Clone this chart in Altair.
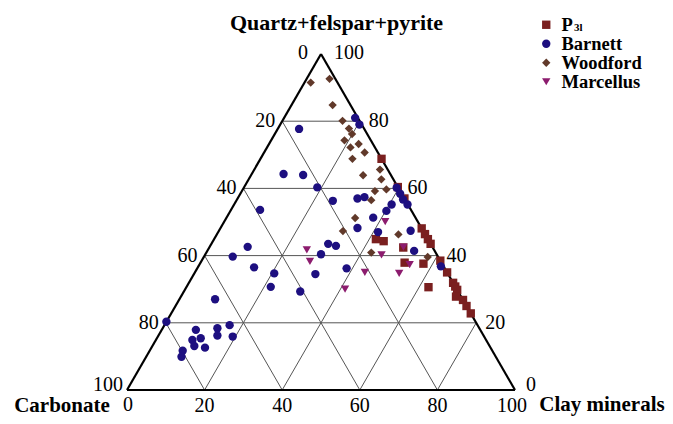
import altair as alt
import pandas as pd

# ---------------- data (percent) ----------------
# quartz = Quartz+felspar+pyrite, clay = Clay minerals, carbonate = 100 - quartz - clay
series_order = ["P3l", "Barnett", "Woodford", "Marcellus"]
series_colors = ["#7a1f1f", "#1d0f80", "#61392a", "#8c1c6e"]
series_shapes = ["square", "circle", "diamond", "triangle-down"]

p3l_quartz = [68.8, 60.4, 57.0, 48.1, 46.4, 44.9, 43.5, 44.9, 44.3, 42.4, 37.9,
              37.6, 38.5, 35.0, 31.9, 30.8, 29.8, 27.8, 26.8, 25.0, 22.8, 30.6]
p3l_clay = [31.2, 39.6, 43.0, 51.9, 53.6, 55.1, 56.5, 41.7, 44.0, 50.0, 52.6,
            57.6, 61.5, 65.0, 68.1, 69.2, 70.2, 70.9, 73.2, 75.0, 77.2, 62.4]

barnett_quartz = [81.0, 79.0, 77.7, 64.3, 64.0, 60.3, 56.3, 57.0, 57.4, 60.2, 58.4, 56.7,
                  55.2, 55.2, 53.3, 51.3, 48.2, 47.0, 47.4, 41.4, 36.8, 36.2, 53.6, 43.5,
                  42.9, 40.4, 42.6, 39.7, 36.5, 34.7, 30.7, 34.5, 29.3, 27.0, 20.3, 17.9,
                  18.4, 16.2, 19.3, 15.9, 14.9, 15.4, 13.1, 12.6, 11.7, 9.9]
barnett_clay = [18.3, 20.4, 5.5, 8.2, 13.4, 18.9, 24.9, 30.9, 32.5, 39.4, 41.2, 42.8,
                44.7, 40.6, 40.2, 37.8, 35.3, 41.2, 49.4, 53.3, 62.5, 38.5, 7.5, 30.1,
                32.4, 29.8, 9.8, 7.4, 14.5, 20.6, 21.7, 31.3, 30.0, 9.2, 0.0, 8.8,
                14.1, 15.2, 16.8, 19.3, 9.4, 11.3, 10.8, 13.8, 8.5, 9.1]

woodford_quartz = [91.5, 92.6, 84.8, 80.1, 77.8, 76.2, 74.3, 72.2, 73.2, 70.7, 68.8,
                   65.6, 63.9, 62.7, 59.2, 59.7, 56.5, 51.2, 47.3, 46.3, 40.9, 39.6]
woodford_clay = [1.6, 5.9, 10.6, 15.5, 18.3, 19.9, 18.9, 21.5, 23.1, 25.9, 23.7,
                 32.4, 28.9, 34.2, 34.3, 37.0, 34.7, 33.2, 32.0, 46.8, 42.5, 57.7]

marcellus_quartz = [50.1, 42.5, 37.3, 34.7, 40.2, 41.7, 38.3, 35.0, 30.0]
marcellus_clay = [41.5, 50.0, 54.2, 52.8, 45.5, 25.5, 28.0, 43.8, 41.2]

grid_values = [20, 40, 60, 80]
inner_ticks = [20, 40, 60, 80]

title_top = "Quartz+felspar+pyrite"
title_left = "Carbonate"
title_right = "Clay minerals"

# ---------------- helpers ----------------
def tx(q, c):
    """ternary -> cartesian x (0..100 along the base)"""
    return c + q / 2.0


def series_frame(name, quartz, clay):
    return pd.DataFrame({
        "series": name,
        "quartz": quartz,
        "clay": clay,
        "x": [tx(q, c) for q, c in zip(quartz, clay)],
        "y": quartz,
    })


points = pd.concat([
    series_frame("P3l", p3l_quartz, p3l_clay),
    series_frame("Barnett", barnett_quartz, barnett_clay),
    series_frame("Woodford", woodford_quartz, woodford_clay),
    series_frame("Marcellus", marcellus_quartz, marcellus_clay),
], ignore_index=True)
points["order"] = range(len(points))

grid_rows = []
for v in grid_values:
    grid_rows.append(dict(x=tx(v, 0), y=v, x2=tx(v, 100 - v), y2=v))            # quartz = v
    grid_rows.append(dict(x=tx(0, v), y=0, x2=tx(100 - v, v), y2=100 - v))      # clay = v
    grid_rows.append(dict(x=tx(0, 100 - v), y=0, x2=tx(100 - v, 0), y2=100 - v))  # carbonate = v
grid = pd.DataFrame(grid_rows)

frame = pd.DataFrame([
    dict(x=tx(0, 0), y=0, x2=tx(0, 100), y2=0),
    dict(x=tx(0, 0), y=0, x2=tx(100, 0), y2=100),
    dict(x=tx(0, 100), y=0, x2=tx(100, 0), y2=100),
])

bottom_ticks = pd.DataFrame({"label": [str(v) for v in inner_ticks],
                             "x": [tx(0, v) for v in inner_ticks],
                             "y": [0] * len(inner_ticks)})
left_ticks = pd.DataFrame({"label": [str(v) for v in inner_ticks],
                           "x": [tx(100 - v, 0) for v in inner_ticks],
                           "y": [100 - v for v in inner_ticks]})
right_ticks = pd.DataFrame({"label": [str(v) for v in inner_ticks],
                            "x": [tx(v, 100 - v) for v in inner_ticks],
                            "y": inner_ticks})

# ---------------- scales ----------------
W, H = 657, 408
PX_X, PX_Y = 3.88, 3.36
x0 = -(127 - 8) / PX_X
y1 = (390 - 8) / PX_Y
xscale = alt.Scale(domain=[x0, x0 + W / PX_X], nice=False, zero=False)
yscale = alt.Scale(domain=[y1 - H / PX_Y, y1], nice=False, zero=False)
X = lambda f: alt.X(f, scale=xscale, axis=None)
Y = lambda f: alt.Y(f, scale=yscale, axis=None)

SERIF = "Liberation Serif"

grid_layer = alt.Chart(grid).mark_rule(color="#555555", strokeWidth=1).encode(
    x=X("x:Q"), y=Y("y:Q"), x2="x2:Q", y2="y2:Q")

frame_layer = alt.Chart(frame).mark_rule(color="black", strokeWidth=2.2).encode(
    x=X("x:Q"), y=Y("y:Q"), x2="x2:Q", y2="y2:Q")

legend = alt.Legend(
    title=None, orient="none", legendX=529, legendY=7.5, padding=0,
    labelExpr="datum.label == 'P3l' ? 'P' : datum.label",
    labelFont=SERIF, labelFontSize=18.5, labelFontWeight="bold", labelColor="black",
    symbolSize=70, symbolStrokeWidth=0, rowPadding=0, labelOffset=6)

point_layer = alt.Chart(points).mark_point(filled=True, opacity=1, size=70).encode(
    x=X("x:Q"), y=Y("y:Q"),
    color=alt.Color("series:N", scale=alt.Scale(domain=series_order, range=series_colors), legend=legend),
    shape=alt.Shape("series:N", scale=alt.Scale(domain=series_order, range=series_shapes), legend=legend),
    order="order:Q",
)

tick_style = dict(font=SERIF, fontSize=20, color="black", baseline="middle")


def tick_layer(df, **kw):
    style = dict(tick_style)
    style.update(kw)
    return alt.Chart(df).mark_text(**style).encode(x=X("x:Q"), y=Y("y:Q"), text="label:N")


bottom_layer = tick_layer(bottom_ticks, align="center", dy=16)
left_layer = tick_layer(left_ticks, align="right", dx=-7)
right_layer = tick_layer(right_ticks, align="left", dx=9)

# corner labels (0 / 100 of each side)
top_left0 = tick_layer(pd.DataFrame({"label": ["0"], "x": [tx(100, 0)], "y": [100]}), align="right", dx=-13, dy=-1)
top_right100 = tick_layer(pd.DataFrame({"label": ["100"], "x": [tx(100, 0)], "y": [100]}), align="left", dx=13, dy=-1)
bl_left100 = tick_layer(pd.DataFrame({"label": ["100"], "x": [tx(0, 0)], "y": [0]}), align="right", dx=-4, dy=-5)
bl_bottom0 = tick_layer(pd.DataFrame({"label": ["0"], "x": [tx(0, 0)], "y": [0]}), align="center", dx=1, dy=15)
br_right0 = tick_layer(pd.DataFrame({"label": ["0"], "x": [tx(0, 100)], "y": [0]}), align="left", dx=11, dy=-5)
br_bottom100 = tick_layer(pd.DataFrame({"label": ["100"], "x": [tx(0, 100)], "y": [0]}), align="center", dx=-3, dy=16)

title_style = dict(font=SERIF, fontWeight="bold", color="black", baseline="middle")
t_top = alt.Chart(pd.DataFrame({"t": [title_top]})).mark_text(align="center", fontSize=22, **title_style).encode(
    x=alt.value(328.5), y=alt.value(14.5), text="t:N")
t_left = alt.Chart(pd.DataFrame({"t": [title_left]})).mark_text(align="center", fontSize=21, **title_style).encode(
    x=alt.value(54), y=alt.value(397.5), text="t:N")
t_right = alt.Chart(pd.DataFrame({"t": [title_right]})).mark_text(align="center", fontSize=21, **title_style).encode(
    x=alt.value(594), y=alt.value(397), text="t:N")
sub = alt.Chart(pd.DataFrame({"t": ["3l"]})).mark_text(
    align="left", baseline="alphabetic", font=SERIF, fontSize=11, fontWeight="bold", color="black").encode(
    x=alt.value(566), y=alt.value(22.5), text="t:N")

chart = alt.layer(
    grid_layer, frame_layer, point_layer, bottom_layer, left_layer, right_layer,
    top_left0, top_right100, bl_left100, bl_bottom0, br_right0, br_bottom100,
    t_top, t_left, t_right, sub,
).properties(
    width=W, height=H, padding=0,
    autosize=alt.AutoSizeParams(type="none"),
    background="white",
).configure_view(strokeWidth=0)

chart.save("out.html", embed_options={"renderer": "svg", "actions": False})
